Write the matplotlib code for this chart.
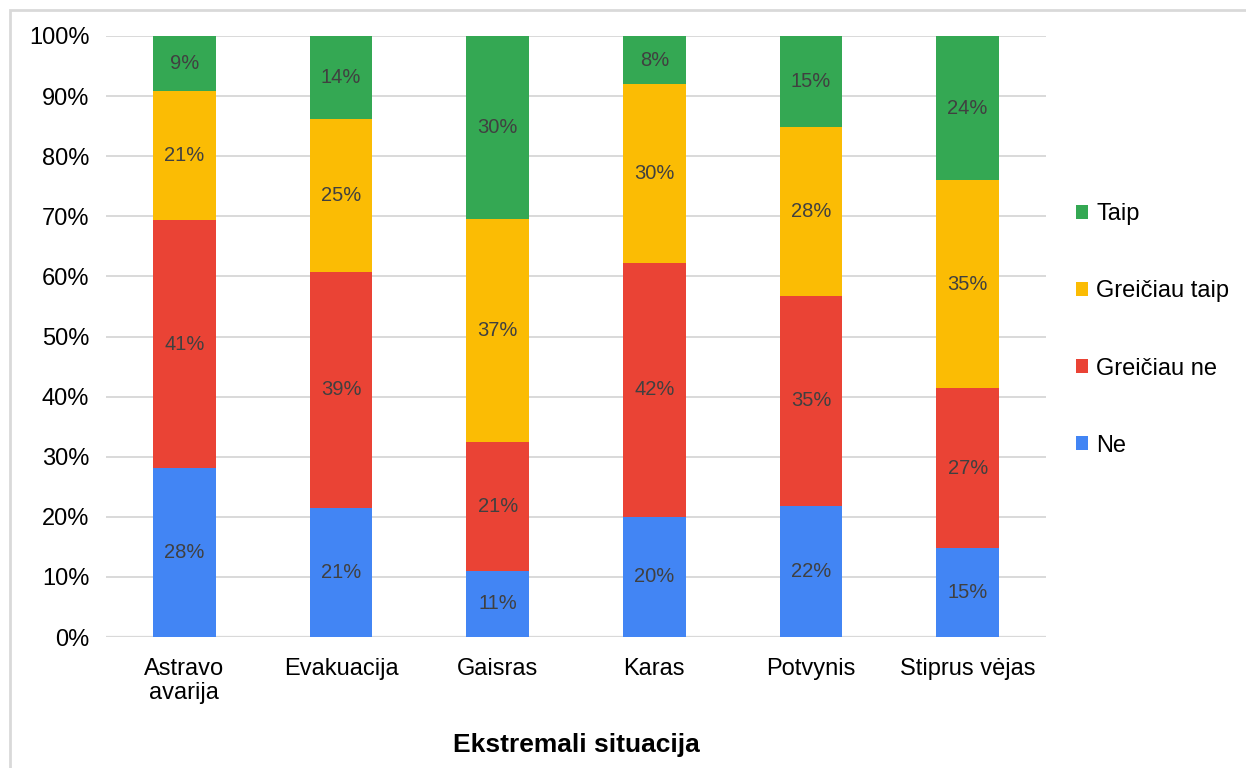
import matplotlib
matplotlib.use("Agg")
import matplotlib.pyplot as plt
from matplotlib.patches import Rectangle, Patch
import numpy as np

categories = ["Astravo\navarija", "Evakuacija", "Gaisras", "Karas", "Potvynis", "Stiprus vėjas"]
series_names = ["Ne", "Greičiau ne", "Greičiau taip", "Taip"]
ne = [28.1, 21.4, 11.0, 20.0, 21.8, 14.8]
greiciau_ne = [41.3, 39.4, 21.4, 42.2, 35.0, 26.6]
greiciau_taip = [21.4, 25.4, 37.2, 29.8, 28.0, 34.6]
taip = [9.2, 13.8, 30.4, 8.0, 15.2, 24.0]
colors = ["#4285F4", "#EA4335", "#FBBC04", "#34A853"]

plt.rcParams['font.family'] = ['Liberation Sans', 'DejaVu Sans']

fig = plt.figure(figsize=(12.46, 7.68), dpi=100)
ax = fig.add_axes([106/1246, 1-637/768, 940/1246, 601/768])

data = [ne, greiciau_ne, greiciau_taip, taip]
x = np.arange(len(categories))
bottom = np.zeros(len(categories))
for vals, col, name in zip(data, colors, series_names):
    vals = np.array(vals)
    ax.bar(x, vals, 0.40, bottom=bottom, color=col, label=name, zorder=3)
    for xi, b, v in zip(x, bottom, vals):
        ax.text(xi, b + v/2, f"{int(v + 0.5)}%", ha='center', va='center',
                fontsize=14.5, color='#404040', zorder=4)
    bottom += vals

ax.set_xlim(-0.5, len(categories)-0.5)
ax.set_ylim(0, 100)
ax.set_yticks(np.arange(0, 101, 10))
ax.set_yticklabels([f"{v}%" for v in range(0, 101, 10)])
ax.set_xticks(x)
ax.set_xticklabels(categories, linespacing=1.12)
ax.tick_params(axis='both', length=0, labelsize=17, colors='#000000')
ax.tick_params(axis='x', pad=15)
ax.tick_params(axis='y', pad=12)
ax.yaxis.grid(True, color='#d9d9d9', linewidth=1.4, zorder=0)
for s in ax.spines.values():
    s.set_visible(False)
ax.axhline(0, color='#d9d9d9', linewidth=1.6, zorder=2)

ax.set_xlabel("Ekstremali situacija", fontsize=19, fontweight='bold', labelpad=21)

handles = [Patch(facecolor=c, edgecolor='none') for c in colors][::-1]
labels = series_names[::-1]
fig.legend(handles, labels, loc='center left', bbox_to_anchor=(1076/1246, 1-330/768),
           frameon=False, fontsize=17, handlelength=0.5, handleheight=0.5,
           handletextpad=0.35, labelspacing=2.33, borderpad=0, borderaxespad=0)

fig.patches.append(Rectangle((10/1246, -0.1), 1.2, 1-10/768+0.1, transform=fig.transFigure,
                             fill=False, edgecolor='#d9d9d9', linewidth=2, zorder=0))

fig.savefig("out.png", dpi=100)
